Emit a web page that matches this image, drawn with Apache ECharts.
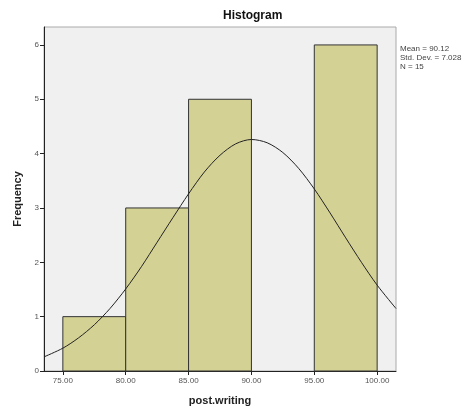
<!DOCTYPE html>
<html>
<head>
<meta charset="utf-8">
<script src="https://cdn.jsdelivr.net/npm/echarts@6/dist/echarts.min.js"></script>
<style>
  html, body { margin: 0; padding: 0; background: #fff; }
  #chart { width: 471px; height: 412px; }
</style>
</head>
<body>
<div id="chart"></div>
<script>
// histogram bins: [from, to, frequency]
const binStarts = [75, 80, 85, 90, 95];
const binEnds = [80, 85, 90, 95, 100];
const frequencies = [1, 3, 5, 0, 6];

// normal curve
const curveX = [73.5, 75, 76.25, 77.5, 78.75, 80, 81.25, 82.5, 83.75, 85, 86.25, 87.5, 88.75, 90,
                91.25, 92.5, 93.75, 95, 96.25, 97.5, 98.75, 100, 101.5];
const curveY = [0.26, 0.42, 0.61, 0.85, 1.15, 1.51, 1.92, 2.37, 2.82, 3.26, 3.66, 3.97, 4.18, 4.26,
                4.20, 4.02, 3.73, 3.35, 2.91, 2.45, 2.00, 1.58, 1.15];

const xTicks = [75, 80, 85, 90, 95, 100];
const yTicks = [0, 1, 2, 3, 4, 5, 6];

const chart = echarts.init(document.getElementById('chart'));

const bins = binStarts.map((s, i) => [s, binEnds[i], frequencies[i]]);

const option = {
  backgroundColor: '#fff',
  animation: false,
  textStyle: { fontFamily: 'Liberation Sans, Arial, sans-serif' },
  title: {
    text: 'Histogram',
    left: 218,
    top: 5,
    textStyle: { fontSize: 12, fontWeight: 'bold', color: '#111' }
  },
  grid: {
    left: 44, right: 75, top: 27, bottom: 41,
    show: true,
    backgroundColor: '#f0f0f0',
    borderColor: '#aaa',
    borderWidth: 1
  },
  xAxis: {
    type: 'value',
    min: 73.5,
    max: 101.5,
    name: 'post.writing',
    nameLocation: 'middle',
    nameGap: 24,
    nameTextStyle: { fontSize: 11, fontWeight: 'bold', color: '#222' },
    axisLine: { show: true, lineStyle: { color: '#222' } },
    axisTick: { show: true, length: 4, customValues: xTicks, lineStyle: { color: '#222' } },
    axisLabel: {
      customValues: xTicks,
      fontSize: 8,
      color: '#555',
      margin: 6,
      formatter: v => v.toFixed(2)
    },
    splitLine: { show: false }
  },
  yAxis: {
    type: 'value',
    min: 0,
    max: 6.33,
    name: 'Frequency',
    nameLocation: 'middle',
    nameGap: 21,
    nameTextStyle: { fontSize: 11, fontWeight: 'bold', color: '#222' },
    axisLine: { show: true, lineStyle: { color: '#222' } },
    axisTick: { show: true, length: 4, customValues: yTicks, lineStyle: { color: '#222' } },
    axisLabel: { customValues: yTicks, fontSize: 8, color: '#555', margin: 5 },
    splitLine: { show: false }
  },
  graphic: [{
    type: 'text',
    left: 400,
    top: 44,
    style: {
      text: 'Mean = 90.12\nStd. Dev. = 7.028\nN = 15',
      fontSize: 8,
      lineHeight: 9,
      fill: '#444',
      fontFamily: 'Liberation Sans, Arial, sans-serif'
    }
  }],
  series: [
    {
      type: 'custom',
      data: bins,
      renderItem: (params, api) => {
        if (api.value(2) === 0) return null;
        const p0 = api.coord([api.value(0), api.value(2)]);
        const p1 = api.coord([api.value(1), 0]);
        return {
          type: 'rect',
          shape: { x: p0[0], y: p0[1], width: p1[0] - p0[0], height: p1[1] - p0[1] },
          style: { fill: '#d4d195', stroke: '#333', lineWidth: 1 }
        };
      },
      encode: { x: [0, 1], y: 2 }
    },
    {
      type: 'line',
      data: curveX.map((x, i) => [x, curveY[i]]),
      smooth: 0.3,
      showSymbol: false,
      lineStyle: { color: '#222', width: 1 },
      z: 5
    }
  ]
};

chart.setOption(option);
</script>
</body>
</html>
